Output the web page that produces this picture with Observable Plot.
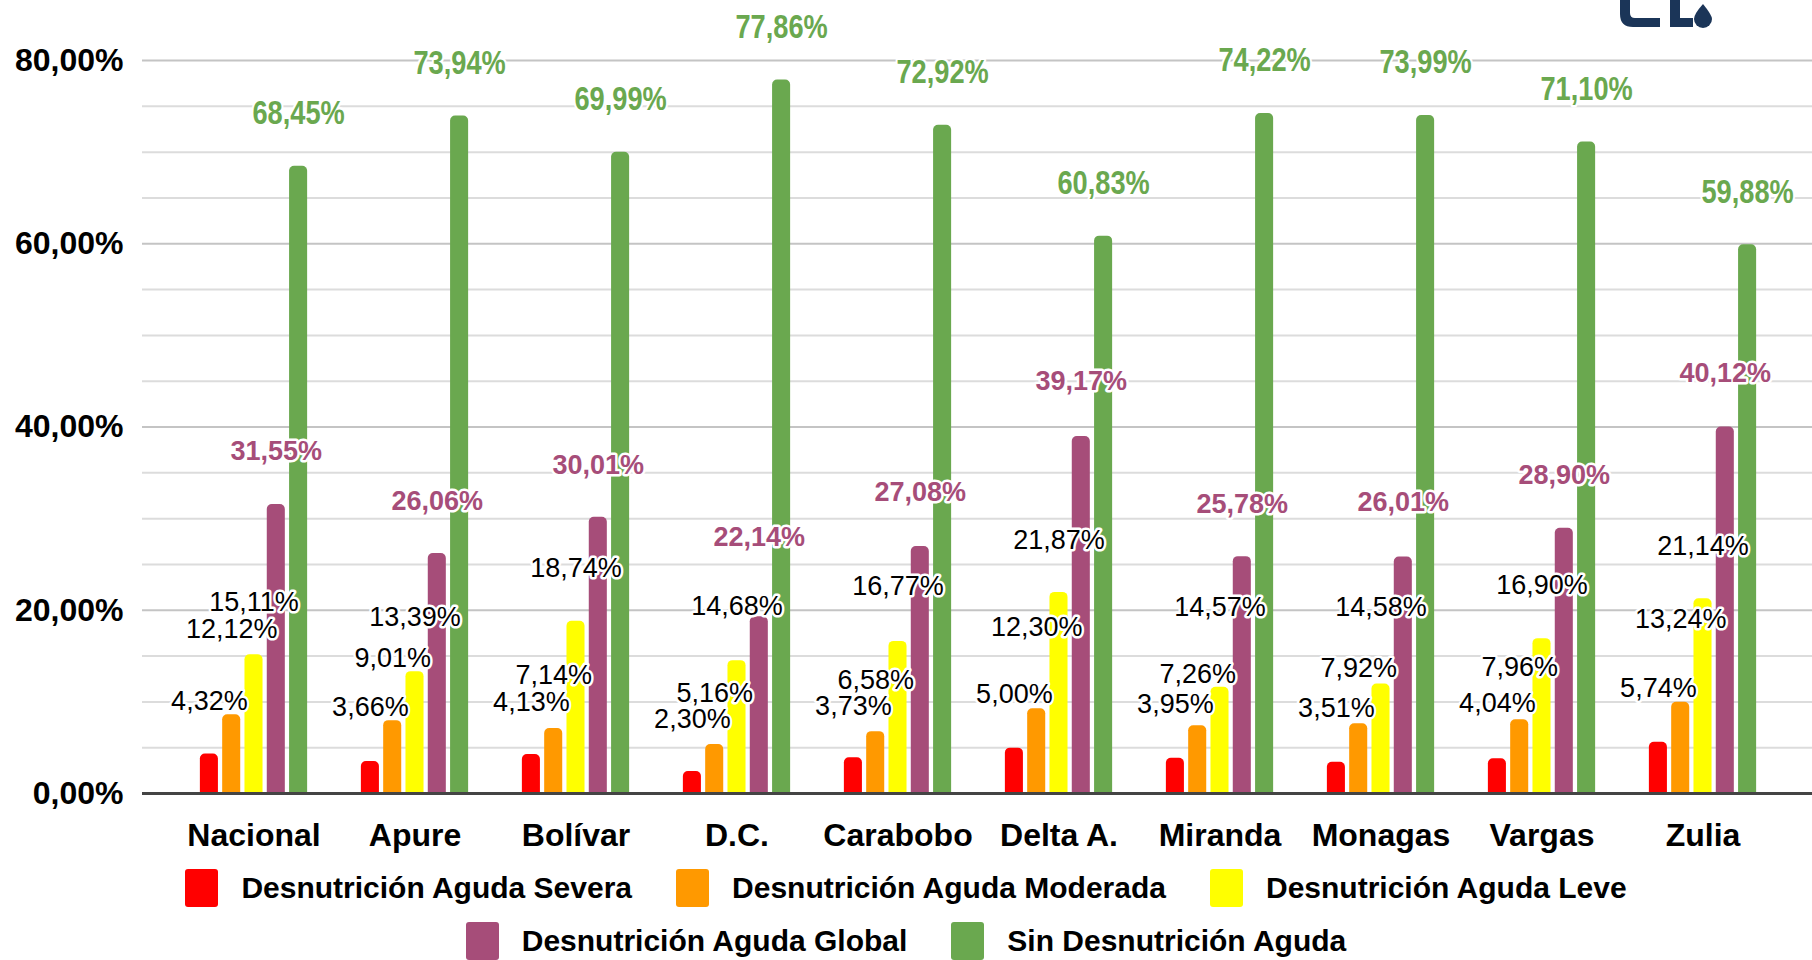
<!DOCTYPE html>
<html>
<head>
<meta charset="utf-8">
<script src="https://cdn.jsdelivr.net/npm/d3@7"></script>
<script src="https://cdn.jsdelivr.net/npm/@observablehq/plot@0.6"></script>
<style>
  html, body { margin: 0; padding: 0; background: #fff; overflow: hidden; }
  body { width: 1812px; height: 960px; position: relative; font-family: "Liberation Sans", Arial, sans-serif; }
  #chart svg { display: block; }
  #legend { position: absolute; left: 0; top: 870px; width: 1812px; }
  .row { display: flex; justify-content: center; align-items: center; height: 36px; margin-bottom: 17px; }
  .item { display: flex; align-items: center; margin: 0 22px; }
  .sw { width: 33px; height: 38px; border-radius: 3px; margin-right: 23px; }
  .lab { font-size: 30px; font-weight: bold; color: #000; white-space: nowrap; }
  #logo { position: absolute; left: 1615px; top: 0; }
</style>
</head>
<body>
<div id="chart"></div>
<div id="legend"></div>
<svg id="logo" width="110" height="32" viewBox="0 0 110 32">
  <path fill="#1b3558" d="M5,0 L15,0 L15,13 Q15,18 20,18 L45,18 L45,27 L18,27 Q5,27 5,14 Z"/>
  <path fill="#1b3558" d="M55,0 L65,0 L65,18 L78,18 L78,27 L55,27 Z"/>
  <path fill="#1b3558" d="M88,4 Q97,15 97,19 A9,9 0 0 1 79,19 Q79,14 88,4 Z"/>
</svg>
<script>
const categories = ["Nacional", "Apure", "Bolívar", "D.C.", "Carabobo", "Delta A.", "Miranda", "Monagas", "Vargas", "Zulia"];
const seriesNames = ["Desnutrición Aguda Severa", "Desnutrición Aguda Moderada", "Desnutrición Aguda Leve", "Desnutrición Aguda Global", "Sin Desnutrición Aguda"];
const seriesColors = ["#ff0000", "#ff9900", "#ffff00", "#a64d79", "#6aa84f"];

// printed value labels
const labelSevera   = [4.32, 3.66, 4.13, 2.30, 3.73, 5.00, 3.95, 3.51, 4.04, 5.74];
const labelModerada = [12.12, 9.01, 7.14, 5.16, 6.58, 12.30, 7.26, 7.92, 7.96, 13.24];
const labelLeve     = [15.11, 13.39, 18.74, 14.68, 16.77, 21.87, 14.57, 14.58, 16.90, 21.14];
const labelGlobal   = [31.55, 26.06, 30.01, 22.14, 27.08, 39.17, 25.78, 26.01, 28.90, 40.12];
const labelSin      = [68.45, 73.94, 69.99, 77.86, 72.92, 60.83, 74.22, 73.99, 71.10, 59.88];

// bar heights as drawn in the picture
const barSevera   = [4.3, 3.5, 4.25, 2.4, 3.9, 4.95, 3.85, 3.4, 3.8, 5.6];
const barModerada = [8.6, 7.95, 7.1, 5.35, 6.75, 9.25, 7.4, 7.6, 8.05, 9.95];
const barLeve     = [15.15, 13.3, 18.8, 14.5, 16.6, 21.95, 11.6, 11.95, 16.9, 21.25];
const barGlobal   = [31.55, 26.2, 30.15, 19.3, 26.95, 38.95, 25.85, 25.8, 28.95, 40.0];
const barSin      = [68.45, 73.94, 69.99, 77.86, 72.92, 60.83, 74.22, 73.99, 71.10, 59.88];

const yTicks = [0, 20, 40, 60, 80];

const labelArrays = [labelSevera, labelModerada, labelLeve, labelGlobal, labelSin];
const barArrays = [barSevera, barModerada, barLeve, barGlobal, barSin];

const fmt = v => v.toFixed(2).replace(".", ",") + "%";

const rows = seriesNames.map((s, i) => categories.map((c, j) => ({cat: c, series: s, i, bar: barArrays[i][j], label: labelArrays[i][j]})));

const step = 22.3;
const barW = 19;
const bandW = (1812 - 142 - 26.5 - 24) / categories.length;
const inset = (bandW - barW) / 2;

const labelStyle = [
  {fill: "#000", fontWeight: "normal", fontSize: 27, dy: -53},
  {fill: "#000", fontWeight: "normal", fontSize: 27, dy: -53},
  {fill: "#000", fontWeight: "normal", fontSize: 27, dy: -53},
  {fill: "#a64d79", fontWeight: "bold", fontSize: 27, dy: -53},
  {fill: "#6aa84f", fontWeight: "bold", fontSize: 34, dy: -53}
];

const minorTicks = d3.range(5, 81, 5).filter(v => v % 20 !== 0);

const plot = Plot.plot({
  width: 1812,
  height: 870,
  marginLeft: 142,
  marginRight: 0,
  marginTop: 60,
  marginBottom: 77,
  style: {fontFamily: "Liberation Sans, Arial, sans-serif", background: "transparent"},
  x: {domain: categories, padding: 0, insetLeft: 26.5, insetRight: 24, label: null},
  y: {domain: [0, 80], label: null},
  marks: [
    Plot.ruleY(minorTicks, {stroke: "#dcdcdc", strokeWidth: 2}),
    Plot.ruleY([20, 40, 60, 80], {stroke: "#c4c4c4", strokeWidth: 2}),
    ...rows.map((r, i) => Plot.barY(r, {
      x: "cat", y1: 0, y2: "bar", fill: seriesColors[i],
      insetLeft: inset, insetRight: inset, insetBottom: -8,
      dx: (i - 2) * step, rx: 5, clip: true
    })),
    Plot.ruleY([0], {stroke: "#444", strokeWidth: 3}),
    Plot.axisY({ticks: yTicks, tickFormat: fmt, tickSize: 0, tickPadding: 19, fontSize: 32, fontWeight: "bold", label: null}),
    Plot.axisX({tickSize: 0, tickPadding: 30, fontSize: 32, fontWeight: "bold", label: null}),
    ...rows.map((r, i) => Plot.text(r, {
      x: "cat", y: "label", text: d => fmt(d.label),
      dx: (i - 2) * step, dy: labelStyle[i].dy,
      fill: labelStyle[i].fill, fontWeight: labelStyle[i].fontWeight,
      fontSize: labelStyle[i].fontSize,
      stroke: "white", strokeWidth: 5, strokeLinejoin: "round", paintOrder: "stroke",
      className: "vlabel-" + i
    }))
  ]
});
document.getElementById("chart").appendChild(plot);

// condense the green labels (narrow bold face) by a horizontal scale about each label's anchor
let greenTexts = Array.from(plot.querySelectorAll(".vlabel-4 text"));
if (!greenTexts.length) greenTexts = Array.from(plot.querySelectorAll('g[fill="#6aa84f"] text'));
greenTexts.forEach(t => {
  let x = parseFloat(t.getAttribute("x"));
  let y = parseFloat(t.getAttribute("y"));
  const tr = t.getAttribute("transform");
  if (tr) {
    const m = /translate\(\s*([-\d.e]+)[ ,]+([-\d.e]+)/.exec(tr);
    if (m) { x = parseFloat(m[1]); y = parseFloat(m[2]); }
    if (!isNaN(x)) t.setAttribute("transform", `translate(${x},${y}) scale(0.8,1)`);
  } else if (!isNaN(x)) {
    t.setAttribute("transform", `translate(${x},0) scale(0.8,1) translate(${-x},0)`);
  }
});

const legend = document.getElementById("legend");
[[0, 1, 2], [3, 4]].forEach(idxs => {
  const row = document.createElement("div");
  row.className = "row";
  idxs.forEach(i => {
    const item = document.createElement("div");
    item.className = "item";
    const sw = document.createElement("div");
    sw.className = "sw";
    sw.style.background = seriesColors[i];
    const lab = document.createElement("span");
    lab.className = "lab";
    lab.textContent = seriesNames[i];
    item.appendChild(sw);
    item.appendChild(lab);
    row.appendChild(item);
  });
  legend.appendChild(row);
});
</script>
</body>
</html>
